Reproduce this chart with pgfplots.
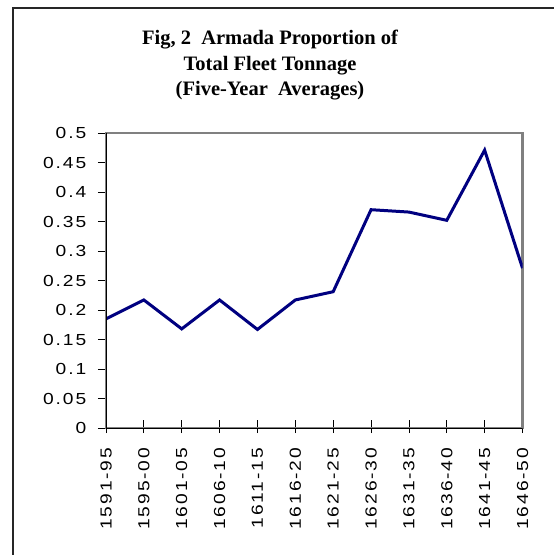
\documentclass[border=0pt]{standalone}
\usepackage{fontspec}
\usepackage{pgfplots}
\pgfplotsset{compat=1.18}
\setmainfont{Liberation Serif}
\newfontfamily\tickfont[LetterSpace=12, FakeStretch=1.2]{Liberation Sans}
\definecolor{navyline}{RGB}{0,0,128}
\definecolor{boxgray}{RGB}{128,128,128}
\begin{document}
\begin{tikzpicture}
\path[use as bounding box] (0,0) rectangle (554pt,555pt);
\fill[white] (0,0) rectangle (554pt,555pt);
\draw[line width=1.5pt, black!85] (13pt,0) -- (13pt,547pt) -- (560pt,547pt);
\node[anchor=base, inner sep=0pt, font=\fontsize{20.5}{25}\selectfont\bfseries] at (270pt,510pt) {Fig, 2\ \ Armada Proportion of};
\node[anchor=base, inner sep=0pt, font=\fontsize{20.5}{25}\selectfont\bfseries] at (270pt,484.5pt) {Total Fleet Tonnage};
\node[anchor=base, inner sep=0pt, font=\fontsize{20.5}{25}\selectfont\bfseries] at (270pt,459.5pt) {(Five-Year\ \ Averages)};
\begin{axis}[
  at={(106pt,127pt)}, anchor=south west,
  scale only axis, width=416.5pt, height=295pt,
  xmin=0, xmax=11, ymin=0, ymax=0.5,
  axis line style={boxgray, line width=2.5pt},
  tick align=outside,
  xtick pos=bottom, ytick pos=left,
  ytick={0,0.05,0.1,0.15,0.2,0.25,0.3,0.35,0.4,0.45,0.5},
  yticklabels={0,0.05,0.1,0.15,0.2,0.25,0.3,0.35,0.4,0.45,0.5},
  xtick={0,1,2,3,4,5,6,7,8,9,10,11},
  xticklabels={1591-95,1595-00,1601-05,1606-10,1611-15,1616-20,1621-25,1626-30,1631-35,1636-40,1641-45,1646-50},
  ytick style={black, line width=0.8pt, /pgfplots/major tick length=8pt},
  xtick style={black, line width=0.8pt, /pgfplots/major tick length=13pt, yshift=8pt},
  yticklabel style={font=\tickfont\fontsize{16}{16}\selectfont, xshift=-12pt},
  xticklabel style={font=\tickfont\fontsize{16}{16}\selectfont, rotate=90, anchor=east, xshift=-12pt},
]
\addplot[navyline, line width=3pt] coordinates {
(0,0.185) (1,0.217) (2,0.168) (3,0.217) (4,0.167) (5,0.217)
(6,0.231) (7,0.370) (8,0.366) (9,0.352) (10,0.471) (11,0.271)
};
\draw[black, line width=1pt] (rel axis cs:0,0) -- (rel axis cs:1,0);
\draw[black, line width=0.8pt] (rel axis cs:0,0) -- (rel axis cs:0,1);
\end{axis}
\end{tikzpicture}
\end{document}
